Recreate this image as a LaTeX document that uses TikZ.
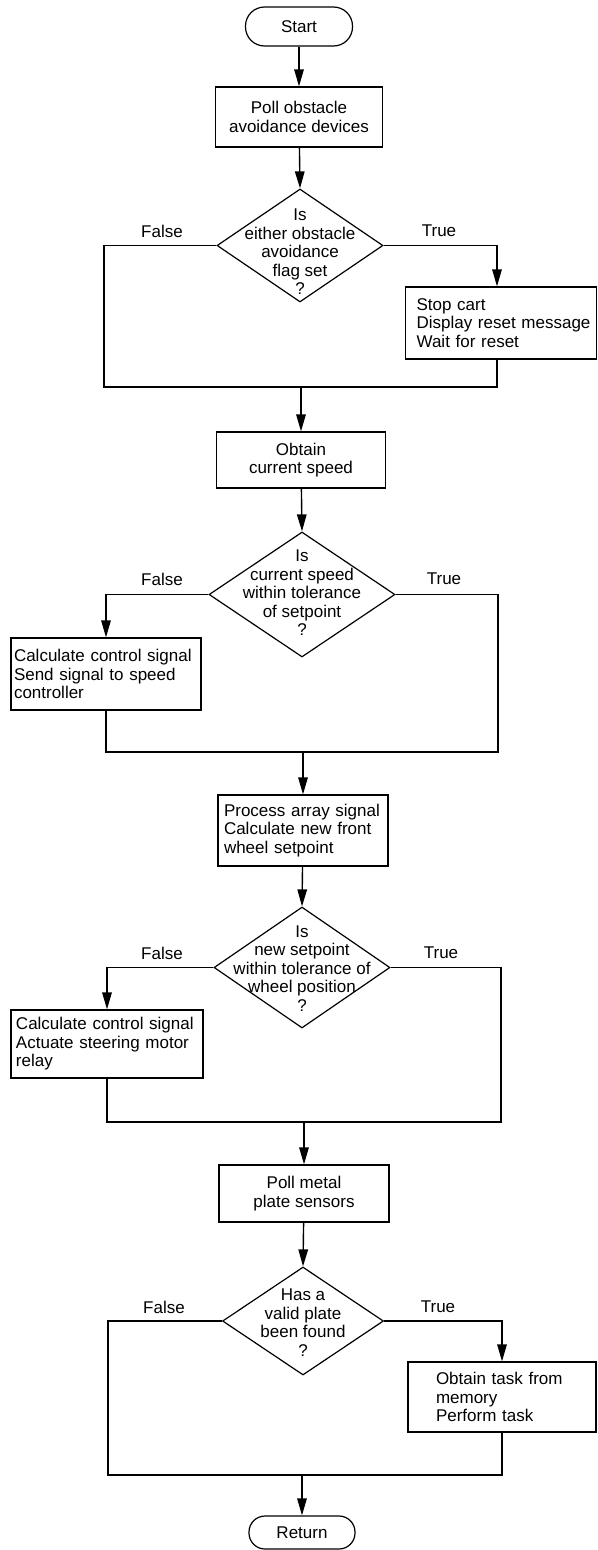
\documentclass[tikz,border=0pt]{standalone}
\usepackage{fontspec}
\setmainfont{Liberation Sans}
\usetikzlibrary{arrows.meta,shapes.geometric}
\begin{document}
\begin{tikzpicture}[x=1pt,y=-1pt,
  font=\fontsize{17}{18.5}\selectfont,
  every node/.append style={execute at begin node={\hyphenpenalty=10000\exhyphenpenalty=10000}},
  term/.style={draw,line width=1.2pt,inner sep=0pt,rounded corners=17pt},
  cbox/.style={draw,line width=1.2pt,inner sep=0pt,align=center},
  lbox/.style={draw,line width=1.2pt,inner ysep=0pt,align=left},
  dia/.style={draw,line width=1.2pt,diamond,inner sep=0pt,aspect=1.4},
  dtext/.style={inner sep=0pt,align=center},
  lab/.style={inner sep=0pt},
  conn/.style={line width=1.4pt},
  arr/.style={line width=1.4pt,-{Triangle[length=17pt,width=9.5pt]}}]
\useasboundingbox (0,0) rectangle (597,1550);

% ---- nodes ----
\node[term,minimum width=107pt,minimum height=39pt,rounded corners=19pt] (start) at (299,26.5) {Start};
\node[cbox,minimum width=167pt,minimum height=60pt] (p1) at (299,117) {Poll obstacle\\avoidance devices};
\node[dia,minimum width=166pt,minimum height=113pt] (d1) at (300,245.5) {};
\node[dtext] (d1t) at (300,252) {Is\\either obstacle\\avoidance\\flag set\\?};
\node[lbox,minimum height=72pt,inner xsep=11pt,text width=169pt,anchor=west] (s1) at (405,323) {Stop cart\\\mbox{Display reset message}\\Wait for reset};

\node[cbox,minimum width=169pt,minimum height=56pt] (o1) at (301,460) {Obtain\\current speed};
\node[dia,minimum width=186pt,minimum height=125pt] (d2) at (302,594.5) {};
\node[dtext] (d2t) at (302,593) {Is\\current speed\\within tolerance\\of setpoint\\?};
\node[lbox,minimum height=72pt,inner xsep=3pt,text width=184pt] (c1) at (106,674) {\mbox{Calculate control signal}\\Send signal to speed\\controller};

\node[lbox,minimum height=71pt,inner xsep=6pt,text width=158pt] (p2) at (303,830.5) {\mbox{Process array signal}\\Calculate new front\\wheel setpoint};
\node[dia,minimum width=176pt,minimum height=121pt] (d3) at (302,967.5) {};
\node[dtext] (d3t) at (302,968.5) {Is\\new setpoint\\within tolerance of\\wheel position\\?};
\node[lbox,minimum height=68pt,inner xsep=5pt,text width=182pt] (c2) at (107,1044) {\mbox{Calculate control signal}\\\mbox{Actuate steering motor}\\relay};

\node[cbox,minimum width=170pt,minimum height=57pt] (p3) at (304,1193.5) {Poll metal\\plate sensors};
\node[dia,minimum width=161pt,minimum height=108pt] (d4) at (303,1321) {};
\node[dtext] (d4t) at (303,1322.5) {Has a\\valid plate\\been found\\?};
\node[lbox,minimum height=70pt,inner xsep=28pt,text width=132pt] (t4) at (502,1397) {\mbox{Obtain task from}\\memory\\Perform task};
\node[term,minimum width=106pt,minimum height=33pt,rounded corners=16pt] (ret) at (302,1532.5) {Return};

% ---- labels ----
\node[lab] (f1) at (162,231) {False};
\node[lab] (tr1) at (439,231) {True};
\node[lab] (f2) at (162,579) {False};
\node[lab] (tr2) at (444,579) {True};
\node[lab] (f3) at (162,953) {False};
\node[lab] (tr3) at (441,953) {True};
\node[lab] (f4) at (164,1307) {False};
\node[lab] (tr4) at (438,1307) {True};

% ---- merge coordinates ----
\coordinate (m1l) at (104,387);
\coordinate (m1r) at (497,387);
\coordinate (m1) at (o1.north |- m1l);
\coordinate (m2l) at (c1.south |- 0,752);
\coordinate (m2r) at (498,752);
\coordinate (m2) at (p2.north |- m2l);
\coordinate (m3l) at (c2.south |- 0,1122);
\coordinate (m3r) at (501,1122);
\coordinate (m3) at (p3.north |- m3l);
\coordinate (m4l) at (108,1475);
\coordinate (m4r) at (t4.south |- m4l);
\coordinate (m4) at (ret.north |- m4l);

% ---- connectors ----
\draw[arr] (start) -- (p1);
\draw[arr] (p1) -- (d1.north);
\draw[arr] (d1.east) -| (m1r |- s1.north);
\draw[conn] (d1.west) -| (m1l) -- (m1r) -- (m1r |- s1.south);
\draw[arr] (m1) -- (o1.north);

\draw[arr] (o1) -- (d2.north);
\draw[arr] (d2.west) -| (c1.north);
\draw[conn] (c1.south) -- (m2l) -- (m2r) |- (d2.east);
\draw[arr] (m2) -- (p2.north);

\draw[arr] (p2) -- (d3.north);
\draw[arr] (d3.west) -| (c2.north);
\draw[conn] (c2.south) -- (m3l) -- (m3r) |- (d3.east);
\draw[arr] (m3) -- (p3.north);

\draw[arr] (p3) -- (d4.north);
\draw[arr] (d4.east) -| (t4.north);
\draw[conn] (d4.west) -| (m4l) -- (m4r) -- (t4.south);
\draw[arr] (m4) -- (ret.north);
\end{tikzpicture}
\end{document}
